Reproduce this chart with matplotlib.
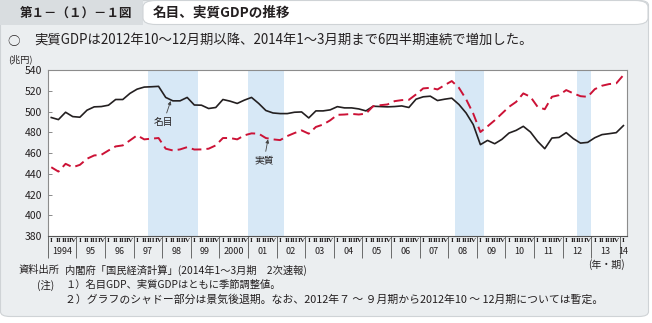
import matplotlib
matplotlib.use("Agg")
import matplotlib.pyplot as plt
from matplotlib.patches import Rectangle, FancyBboxPatch
import numpy as np

plt.rcParams['font.family'] = ['Noto Sans CJK JP', 'DejaVu Sans']

# Quarterly GDP, trillion yen, 1994 Q1 - 2014 Q1 (seasonally adjusted)
years = list(range(1994, 2015))
year_labels = ['1994', '95', '96', '97', '98', '99', '2000', '01', '02', '03',
               '04', '05', '06', '07', '08', '09', '10', '11', '12', '13', '14']
quarter_labels = ['I', 'II', 'III', 'IV']

nominal_gdp = [
    494.4, 492.4, 499.5, 495.3,
    494.7, 501.5, 504.7, 505.0,
    506.3, 511.8, 511.8, 517.7,
    521.8, 523.8, 524.1, 524.5,
    513.8, 510.5, 510.5, 513.8,
    506.5, 506.3, 503.1, 504.1,
    511.8, 510.2, 508.0, 511.2,
    513.8, 508.0, 501.2, 498.8,
    498.2, 498.2, 499.5, 499.8,
    494.0, 500.8, 500.8, 501.8,
    504.9, 503.7, 503.7, 502.7,
    500.8, 505.3, 505.0, 504.7,
    505.0, 505.6, 504.1, 512.1,
    514.4, 515.0, 510.8, 512.1,
    513.1, 507.0, 498.8, 487.6,
    468.2, 472.3, 469.1, 473.3,
    479.4, 482.0, 485.9, 480.4,
    471.4, 464.3, 474.6, 475.2,
    479.8, 474.0, 469.7, 470.4,
    474.9, 477.9, 478.8, 479.8,
    486.6,
]

real_gdp = [
    446.4, 442.2, 449.7, 446.4,
    448.7, 454.6, 457.8, 458.4,
    462.6, 466.5, 467.5, 472.3,
    477.2, 473.3, 474.0, 474.6,
    464.3, 462.6, 463.6, 465.8,
    463.5, 463.6, 464.3, 467.5,
    474.6, 474.6, 473.3, 477.2,
    479.1, 478.8, 474.6, 473.3,
    472.6, 476.5, 479.4, 482.0,
    478.8, 485.3, 487.6, 491.7,
    497.0, 497.3, 497.9, 497.3,
    498.2, 505.3, 506.3, 507.0,
    510.2, 511.2, 511.5, 516.7,
    522.5, 523.1, 521.5, 525.7,
    529.6, 523.1, 512.1, 498.2,
    480.4, 485.9, 491.7, 498.2,
    504.7, 509.5, 517.7, 514.4,
    504.7, 502.4, 514.4, 516.0,
    520.9, 517.7, 515.0, 514.4,
    521.8, 525.1, 526.7, 527.4,
    535.4,
]

# Recession periods, as (first quarter, last quarter) index ranges
recessions = [(14, 20), (28, 32), (57, 60), (74, 75)]

W, H = 652, 323
fig = plt.figure(figsize=(W / 100, H / 100), dpi=100)
fig.patch.set_facecolor('white')


def fx(x):
    return x / W


def fy(y):
    return 1 - y / H


# panel and header
panel = FancyBboxPatch((fx(0.5), fy(316.5)), fx(648), fy(0.5) - fy(316.5),
                       boxstyle="round,pad=0,rounding_size=0.015",
                       transform=fig.transFigure, facecolor='#ebeef0',
                       edgecolor='#cfd3d6', linewidth=0.8, zorder=-2)
fig.patches.append(panel)
fig.patches.append(Rectangle((fx(0), fy(24.5)), fx(143), fy(0) - fy(24.5),
                             transform=fig.transFigure, facecolor='#d9dde0',
                             edgecolor='none', zorder=-1))
fig.patches.append(FancyBboxPatch((fx(143), fy(24.5)), fx(648) - fx(143), fy(0.5) - fy(24.5),
                                  boxstyle="round,pad=0,rounding_size=0.02",
                                  transform=fig.transFigure, facecolor='white',
                                  edgecolor='#cfd3d6', linewidth=0.8, zorder=-1))

fig.text(fx(20), fy(13), '第１－（１）－１図', fontsize=9, fontweight='bold',
         color='#231f20', va='center', ha='left')
fig.text(fx(153), fy(13), '名目、実質GDPの推移', fontsize=9.8, fontweight='bold',
         color='#231f20', va='center', ha='left')
fig.text(fx(7), fy(41), '○', fontsize=9, color='#231f20', va='center', ha='left')
fig.text(fx(34), fy(41),
         '実質GDPは2012年10～12月期以降、2014年1～3月期まで6四半期連続で増加した。',
         fontsize=9.6, color='#231f20', va='center', ha='left')
fig.text(fx(8), fy(59), '(兆円)', fontsize=6.6, color='#231f20', va='center', ha='left')

# chart area
ax = fig.add_axes([fx(47.7), fy(236), fx(627) - fx(47.7), fy(70.3) - fy(236)])
ax.set_zorder(5)
ax.set_facecolor('white')

n = len(nominal_gdp)
x = np.arange(n) + 0.5

for start, end in recessions:
    ax.axvspan(start, end + 1, color='#d7e8f6', lw=0, zorder=0)

ax.plot(x, nominal_gdp, color='#231f20', lw=1.2, zorder=3)
ax.plot(x, real_gdp, color='#cc1236', lw=1.4, dashes=(5, 2.6), zorder=3)

ax.set_xlim(0, n)
ax.set_ylim(380, 540)
ax.set_yticks(np.arange(380, 541, 20))
ax.tick_params(axis='y', direction='in', length=3, width=0.6, color='#777777',
               labelsize=7.5, labelcolor='#231f20', pad=4)

# year separators below the axis
ax.set_xticks(np.arange(0, n, 4))
ax.set_xticklabels([])
ax.tick_params(axis='x', which='major', direction='out', length=16, width=0.6,
               color='#555555')
ax.set_xticks(x, minor=True)
ax.set_xticklabels([quarter_labels[i % 4] for i in range(n)], minor=True,
                   fontsize=5.2, family='Liberation Serif', fontweight='bold')
ax.tick_params(axis='x', which='minor', length=0, pad=1.2, labelcolor='#231f20')

for k, lab in enumerate(year_labels):
    cx = k * 4 + 2 if k < len(year_labels) - 1 else k * 4 + 0.5
    ax.text(cx, -0.094, lab, transform=ax.get_xaxis_transform(), ha='center',
            va='center', fontsize=6.5, color='#231f20')

for s in ax.spines.values():
    s.set_color('#8c8c8c')
    s.set_linewidth(0.8)
ax.spines['bottom'].set_color('#555555')

# series labels
ax.annotate('名目', xy=(17.2, 510.3), xytext=(16.2, 490.0), fontsize=7,
            ha='center', va='center', color='#231f20',
            arrowprops=dict(arrowstyle='-|>', color='#444444', lw=0.6,
                            mutation_scale=5, shrinkA=1, shrinkB=0))
ax.annotate('実質', xy=(30.8, 473.3), xytext=(30.25, 452.9), fontsize=7,
            ha='center', va='center', color='#231f20',
            arrowprops=dict(arrowstyle='-|>', color='#444444', lw=0.6,
                            mutation_scale=5, shrinkA=1, shrinkB=0))

fig.text(fx(625), fy(265), '(年・期)', fontsize=7.2, color='#231f20', va='center', ha='right')

# source and notes
note_fs = 7.4
fig.text(fx(19), fy(270), '資料出所', fontsize=note_fs, color='#231f20', va='center', ha='left')
fig.text(fx(65), fy(270), '内閣府「国民経済計算」(2014年1～3月期　2次速報)',
         fontsize=note_fs, color='#231f20', va='center', ha='left')
fig.text(fx(37), fy(285), '(注)', fontsize=note_fs, color='#231f20', va='center', ha='left')
fig.text(fx(65), fy(285), '１）名目GDP、実質GDPはともに季節調整値。',
         fontsize=note_fs, color='#231f20', va='center', ha='left')
fig.text(fx(65), fy(300),
         '２）グラフのシャドー部分は景気後退期。なお、2012年７ ～ ９月期から2012年10 ～ 12月期については暫定。',
         fontsize=7.8, color='#231f20', va='center', ha='left')

fig.savefig('out.png', dpi=100, facecolor=fig.get_facecolor())
